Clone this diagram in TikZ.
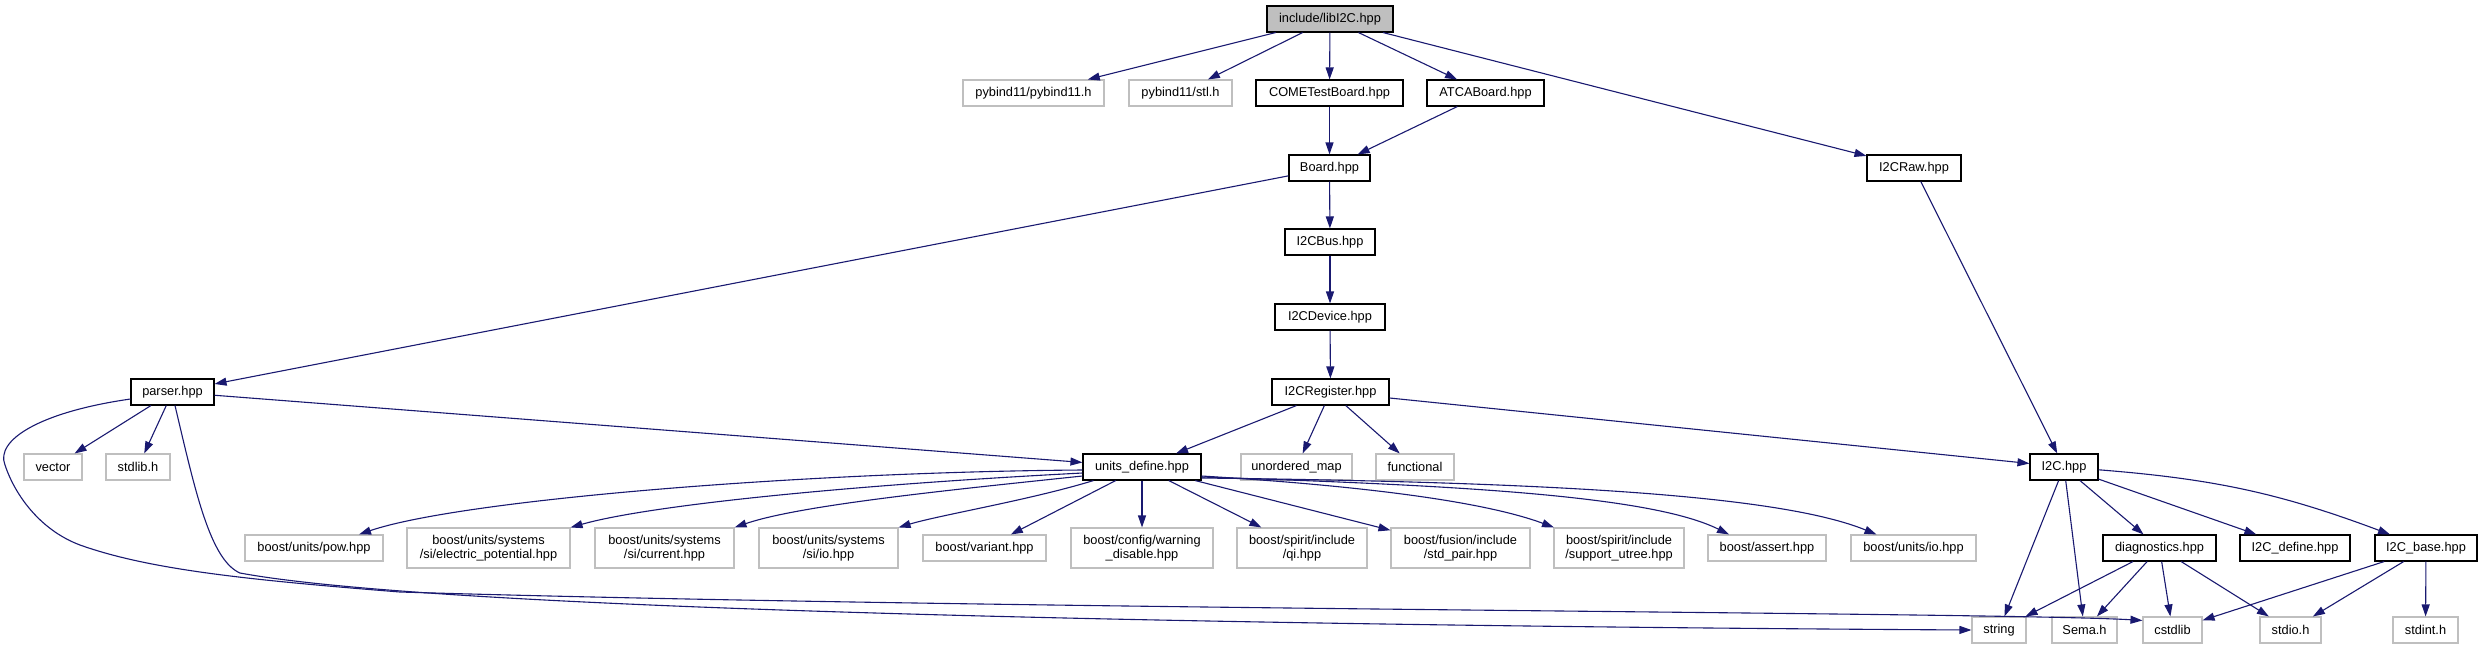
\documentclass[tikz,border=0pt]{standalone}
\usepackage{fontspec}
\setmainfont{Liberation Sans}
\usetikzlibrary{arrows.meta}
\definecolor{edgeblue}{HTML}{191970}
\definecolor{boxgray}{HTML}{BFBFBF}

\begin{document}
\begin{tikzpicture}[
    x=1pt, y=-1pt,
    file/.style={rectangle, draw, line width=1.1pt, fill=white, inner sep=0pt, minimum height=26pt, align=center, font=\fontsize{12.8}{14.5}\selectfont},
    sys/.style={file, draw=boxgray},
    own/.style={file, draw=black},
    rootfile/.style={file, draw=black, fill=boxgray},
    tall/.style={minimum height=40pt},
    edge/.style={-{Triangle[length=12pt,width=8pt]}, line width=1.1pt, color=edgeblue}
]
\useasboundingbox (0,0) rectangle (2483,649);

% top of the include tree
\node[rootfile, minimum width=126pt] (libi2c) at (1330,19) {include/libI2C.hpp};
\node[sys, minimum width=141pt] (pybind) at (1033.5,93) {pybind11/pybind11.h};
\node[sys, minimum width=103pt] (stl) at (1180.5,93) {pybind11/stl.h};
\node[own, minimum width=147pt] (comet) at (1329.5,93) {COMETestBoard.hpp};
\node[own, minimum width=117pt] (atca) at (1485.5,93) {ATCABoard.hpp};
\node[own, minimum width=81pt] (board) at (1329.5,168) {Board.hpp};
\node[own, minimum width=94pt] (i2craw) at (1914,168) {I2CRaw.hpp};
\node[own, minimum width=90pt] (i2cbus) at (1330,242) {I2CBus.hpp};
\node[own, minimum width=110pt] (i2cdevice) at (1330,317) {I2CDevice.hpp};
\node[own, minimum width=83pt] (parser) at (172.5,392) {parser.hpp};
\node[own, minimum width=117pt] (i2cregister) at (1330.5,392) {I2CRegister.hpp};

% middle row
\node[sys, minimum width=58pt] (vector) at (53,467) {vector};
\node[sys, minimum width=64pt] (stdlib) at (138,467) {stdlib.h};
\node[own, minimum width=118pt] (unitsdef) at (1142,467) {units\_define.hpp};
\node[sys, minimum width=111pt] (unordered) at (1296.5,467) {unordered\_map};
\node[sys, minimum width=78pt] (functional) at (1415,467) {functional};
\node[own, minimum width=68pt] (i2c) at (2064,467) {I2C.hpp};

% boost headers
\node[sys, minimum width=138pt] (pow) at (314,548) {boost/units/pow.hpp};
\node[sys, tall, minimum width=163pt] (elecpot) at (488.5,548) {boost/units/systems\\/si/electric\_potential.hpp};
\node[sys, tall, minimum width=139pt] (current) at (664.5,548) {boost/units/systems\\/si/current.hpp};
\node[sys, tall, minimum width=139pt] (siio) at (828.5,548) {boost/units/systems\\/si/io.hpp};
\node[sys, minimum width=123pt] (variant) at (984.5,548) {boost/variant.hpp};
\node[sys, tall, minimum width=142pt] (warning) at (1142,548) {boost/config/warning\\\_disable.hpp};
\node[sys, tall, minimum width=130pt] (qi) at (1302,548) {boost/spirit/include\\/qi.hpp};
\node[sys, tall, minimum width=139pt] (stdpair) at (1460.5,548) {boost/fusion/include\\/std\_pair.hpp};
\node[sys, tall, minimum width=130pt] (utree) at (1619,548) {boost/spirit/include\\/support\_utree.hpp};
\node[sys, minimum width=118pt] (assert) at (1767,548) {boost/assert.hpp};
\node[sys, minimum width=125pt] (unitsio) at (1913.5,548) {boost/units/io.hpp};
\node[own, minimum width=113pt] (diag) at (2159.5,548) {diagnostics.hpp};
\node[own, minimum width=110pt] (i2cdefine) at (2295,548) {I2C\_define.hpp};
\node[own, minimum width=102pt] (i2cbase) at (2426,548) {I2C\_base.hpp};

% system headers at the bottom
\node[sys, minimum width=54pt] (string) at (1999,630) {string};
\node[sys, minimum width=65pt] (sema) at (2084.5,630) {Sema.h};
\node[sys, minimum width=59pt] (cstdlib) at (2172.5,630) {cstdlib};
\node[sys, minimum width=61pt] (stdio) at (2290.5,630) {stdio.h};
\node[sys, minimum width=65pt] (stdint) at (2425.5,630) {stdint.h};

% straight includes
\draw[edge] (libi2c) -- (pybind);
\draw[edge] (libi2c) -- (stl);
\draw[edge] (libi2c) -- (comet);
\draw[edge] (libi2c) -- (atca);
\draw[edge] (libi2c) -- (i2craw);
\draw[edge] (comet) -- (board);
\draw[edge] (atca) -- (board);
\draw[edge] (board) -- (i2cbus);
\draw[edge] (board) -- (parser);
\draw[edge] (i2cbus) -- (i2cdevice);
\draw[edge] (i2cdevice) -- (i2cregister);
\draw[edge] (i2craw) -- (i2c);
\draw[edge] (parser) -- (vector);
\draw[edge] (parser) -- (stdlib);
\draw[edge] (parser) -- (unitsdef);
\draw[edge] (i2cregister) -- (unitsdef);
\draw[edge] (i2cregister) -- (unordered);
\draw[edge] (i2cregister) -- (functional);
\draw[edge] (i2cregister) -- (i2c);
\draw[edge] (unitsdef) -- (variant);
\draw[edge] (unitsdef) -- (warning);
\draw[edge] (unitsdef) -- (qi);
\draw[edge] (unitsdef) -- (stdpair);
\draw[edge] (i2c) -- (string);
\draw[edge] (i2c) -- (sema);
\draw[edge] (i2c) -- (diag);
\draw[edge] (i2c) -- (i2cdefine);
\draw[edge] (i2c) to[bend left=8] (i2cbase);
\draw[edge] (diag) -- (string);
\draw[edge] (diag) -- (sema);
\draw[edge] (diag) -- (cstdlib);
\draw[edge] (diag) -- (stdio);
\draw[edge] (i2cbase) -- (cstdlib);
\draw[edge] (i2cbase) -- (stdio);
\draw[edge] (i2cbase) -- (stdint);

% curved includes of units_define.hpp
\draw[edge] ([yshift=-3pt]unitsdef.west) .. controls (800,472) and (460,500) .. ([xshift=45pt]pow.north);
\draw[edge] ([yshift=-6pt]unitsdef.west) .. controls (850,485) and (650,505) .. (elecpot.north east);
\draw[edge] ([yshift=-9pt]unitsdef.west) .. controls (950,490) and (800,505) .. (current.north east);
\draw[edge] ([xshift=11pt]unitsdef.south west) .. controls (1030,500) and (940,515) .. (siio.north east);
\draw[edge] ([yshift=-9pt]unitsdef.east) .. controls (1350,485) and (1480,500) .. ([xshift=-65pt]utree.north);
\draw[edge] ([yshift=-10pt]unitsdef.east) .. controls (1450,485) and (1650,495) .. ([xshift=-38pt]assert.north);
\draw[edge] ([yshift=-11pt]unitsdef.east) .. controls (1550,482) and (1780,495) .. ([xshift=-37pt]unitsio.north);

% long ones from parser.hpp
\draw[edge] ([yshift=-7pt]parser.west) .. controls (40,412) and (-5,440) .. (5,465)
    .. controls (15,495) and (40,530) .. (80,545)
    .. controls (150,570) and (250,580) .. (400,592)
    .. controls (1000,610) and (2000,612) .. ([yshift=-4pt]cstdlib.north west);
\draw[edge] ([xshift=2.5pt]parser.south) .. controls (195,490) and (210,560) .. (240,573)
    .. controls (450,612) and (1300,626) .. (string.west);
\end{tikzpicture}
\end{document}
